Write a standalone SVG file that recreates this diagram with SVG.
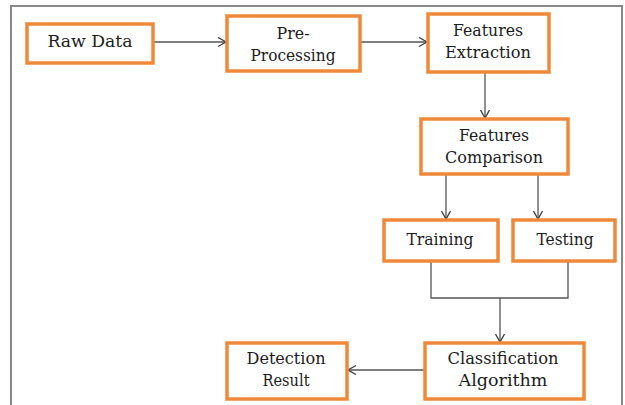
<svg xmlns="http://www.w3.org/2000/svg" width="625" height="405" viewBox="0 0 625 405">
<style>
.box{fill:#fff;stroke:#F0883A;stroke-width:3.5}
.t{font-family:"DejaVu Serif","Liberation Serif",serif;font-size:16px;fill:#1c1c1c;text-anchor:middle}
.c{fill:none;stroke:#555;stroke-width:1.3}
</style>
<defs>
<marker id="ah" markerUnits="userSpaceOnUse" markerWidth="12" markerHeight="12" refX="9" refY="5" orient="auto">
<path d="M1,0.5 L9,5 L1,9.5" fill="none" stroke="#444" stroke-width="1.4"/>
</marker>
</defs>
<rect width="625" height="405" fill="#fff"/>
<path d="M11,405 V6 H622 V405" fill="none" stroke="#888" stroke-width="2"/>
<g id="connectors">
<line class="c" x1="153" y1="42" x2="226" y2="42" marker-end="url(#ah)"/>
<line class="c" x1="360" y1="42" x2="427" y2="42" marker-end="url(#ah)"/>
<line class="c" x1="485" y1="72" x2="485" y2="118" marker-end="url(#ah)"/>
<line class="c" x1="446" y1="174" x2="446" y2="219" stroke="#222" stroke-width="2" marker-end="url(#ah)"/>
<line class="c" x1="538" y1="174" x2="538" y2="219" stroke="#888" marker-end="url(#ah)"/>
<path class="c" d="M431,261 V298 H568 V261"/>
<line class="c" x1="500" y1="298" x2="500" y2="342" marker-end="url(#ah)"/>
<line class="c" x1="425" y1="370" x2="348" y2="370" marker-end="url(#ah)"/>
</g>
<g id="raw-data"><rect class="box" x="27" y="24" width="126" height="39"/><text class="t" x="90" y="47" textLength="85" lengthAdjust="spacingAndGlyphs">Raw Data</text></g>
<g id="pre-processing"><rect class="box" x="227" y="16" width="133" height="55"/><text class="t" x="293" y="39" textLength="33" lengthAdjust="spacingAndGlyphs">Pre-</text><text class="t" x="293" y="61" textLength="85" lengthAdjust="spacingAndGlyphs">Processing</text></g>
<g id="features-extraction"><rect class="box" x="428" y="14" width="121" height="58"/><text class="t" x="488" y="36" textLength="70" lengthAdjust="spacingAndGlyphs">Features</text><text class="t" x="488" y="58" textLength="86" lengthAdjust="spacingAndGlyphs">Extraction</text></g>
<g id="features-comparison"><rect class="box" x="421" y="119" width="147" height="55"/><text class="t" x="494" y="141" textLength="70" lengthAdjust="spacingAndGlyphs">Features</text><text class="t" x="494" y="163" textLength="98" lengthAdjust="spacingAndGlyphs">Comparison</text></g>
<g id="training"><rect class="box" x="384" y="220" width="114" height="41"/><text class="t" x="440" y="245" textLength="67" lengthAdjust="spacingAndGlyphs">Training</text></g>
<g id="testing"><rect class="box" x="513" y="220" width="102" height="41"/><text class="t" x="565" y="245" textLength="57" lengthAdjust="spacingAndGlyphs">Testing</text></g>
<g id="detection-result"><rect class="box" x="227" y="343" width="120" height="56"/><text class="t" x="286" y="364" textLength="79" lengthAdjust="spacingAndGlyphs">Detection</text><text class="t" x="286" y="386" textLength="47" lengthAdjust="spacingAndGlyphs">Result</text></g>
<g id="classification-algorithm"><rect class="box" x="425" y="343" width="159" height="56"/><text class="t" x="503" y="364" textLength="111" lengthAdjust="spacingAndGlyphs">Classification</text><text class="t" x="503" y="386" textLength="89" lengthAdjust="spacingAndGlyphs">Algorithm</text></g>
</svg>
